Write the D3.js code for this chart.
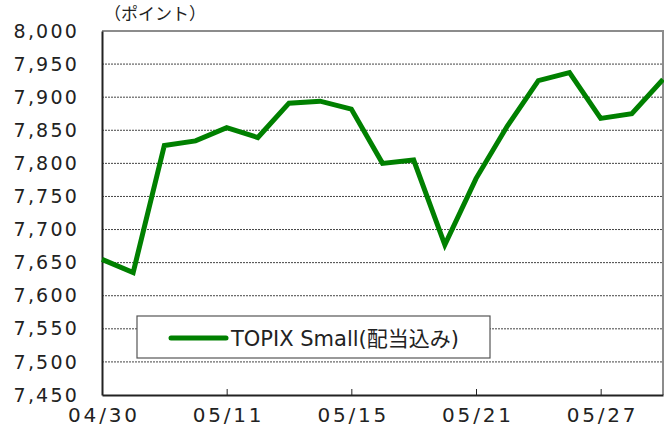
<!DOCTYPE html>
<html>
<head>
<meta charset="utf-8">
<script src="https://cdn.jsdelivr.net/npm/d3@7"></script>
<style>
  body { margin: 0; background: #fff; }
  text { font-family: "DejaVu Sans", "Noto Sans CJK JP", sans-serif; fill: #222; }
</style>
</head>
<body>
<svg id="chart"></svg>
<script>
const dates = ["04/30", "05/01", "05/07", "05/08", "05/11", "05/12", "05/13", "05/14", "05/15",
  "05/18", "05/19", "05/20", "05/21", "05/22", "05/25", "05/26", "05/27", "05/28", "05/29"];
const values = [7655, 7635, 7827, 7834, 7854, 7839, 7891, 7894, 7882,
  7800, 7805, 7677, 7777, 7856, 7925, 7937, 7868, 7875, 7927];
const labeledDates = ["04/30", "05/11", "05/15", "05/21", "05/27"];
const yTicks = d3.range(7450, 8001, 50);
const seriesName = "TOPIX Small(配当込み)";
const unitLabel = "（ポイント）";

const width = 664, height = 429;
const margin = { top: 31, right: 1, bottom: 34, left: 102 };
const innerW = width - margin.left - margin.right;
const innerH = height - margin.top - margin.bottom;

const svg = d3.select("#chart").attr("width", width).attr("height", height);
const bounds = svg.append("g")
  .attr("transform", `translate(${margin.left},${margin.top})`);

const xScale = d3.scalePoint().domain(dates).range([0, innerW]);
const yScale = d3.scaleLinear().domain([7450, 8000]).range([innerH, 0]);

// grid lines
bounds.append("g")
  .selectAll("line")
  .data(yTicks.filter(d => d > 7450 && d < 8000))
  .join("line")
  .attr("x1", 0).attr("x2", innerW)
  .attr("y1", d => yScale(d)).attr("y2", d => yScale(d))
  .attr("stroke", "#444").attr("stroke-width", 1)
  .attr("stroke-dasharray", "2,1");

// frame: top and right in gray
bounds.append("path")
  .attr("d", `M0,0H${innerW}V${innerH}`)
  .attr("fill", "none").attr("stroke", "#8c8c8c").attr("stroke-width", 2);

// y axis
const yAxis = bounds.append("g")
  .call(d3.axisLeft(yScale).tickValues(yTicks).tickSize(0).tickPadding(23)
    .tickFormat(d3.format(",")));
yAxis.select(".domain").attr("stroke", "#222").attr("stroke-width", 2);
yAxis.selectAll("text")
  .attr("font-size", 19).attr("letter-spacing", 2.2)
  .style("fill", "#222");

// x axis
const xAxis = bounds.append("g")
  .attr("transform", `translate(0,${innerH})`)
  .call(d3.axisBottom(xScale).tickValues(labeledDates).tickSize(-6).tickPadding(13).tickSizeOuter(0));
xAxis.select(".domain").attr("stroke", "#222").attr("stroke-width", 2);
xAxis.selectAll(".tick line").attr("stroke", "#222");
xAxis.selectAll("text")
  .attr("font-size", 20).attr("letter-spacing", 2.8)
  .attr("dx", 1.4)
  .style("fill", "#222");

// series line
const line = d3.line()
  .x((d, i) => xScale(dates[i]))
  .y(d => yScale(d));

bounds.append("path")
  .datum(values)
  .attr("d", line)
  .attr("fill", "none")
  .attr("stroke", "#008000")
  .attr("stroke-width", 5)
  .attr("stroke-linejoin", "miter");

// unit label
svg.append("text")
  .attr("x", 104).attr("y", 20)
  .attr("font-family", "Noto Sans CJK JP")
  .attr("font-size", 17)
  .text(unitLabel);

// legend
const legend = svg.append("g").attr("transform", "translate(137,316)");
legend.append("rect")
  .attr("width", 353).attr("height", 42)
  .attr("fill", "#fff").attr("stroke", "#555").attr("stroke-width", 1.2);
legend.append("line")
  .attr("x1", 34).attr("x2", 89).attr("y1", 22).attr("y2", 22)
  .attr("stroke", "#008000").attr("stroke-width", 5).attr("stroke-linecap", "round");
legend.append("text")
  .attr("x", 94).attr("y", 30)
  .attr("font-size", 21)
  .text(seriesName);
</script>
</body>
</html>
